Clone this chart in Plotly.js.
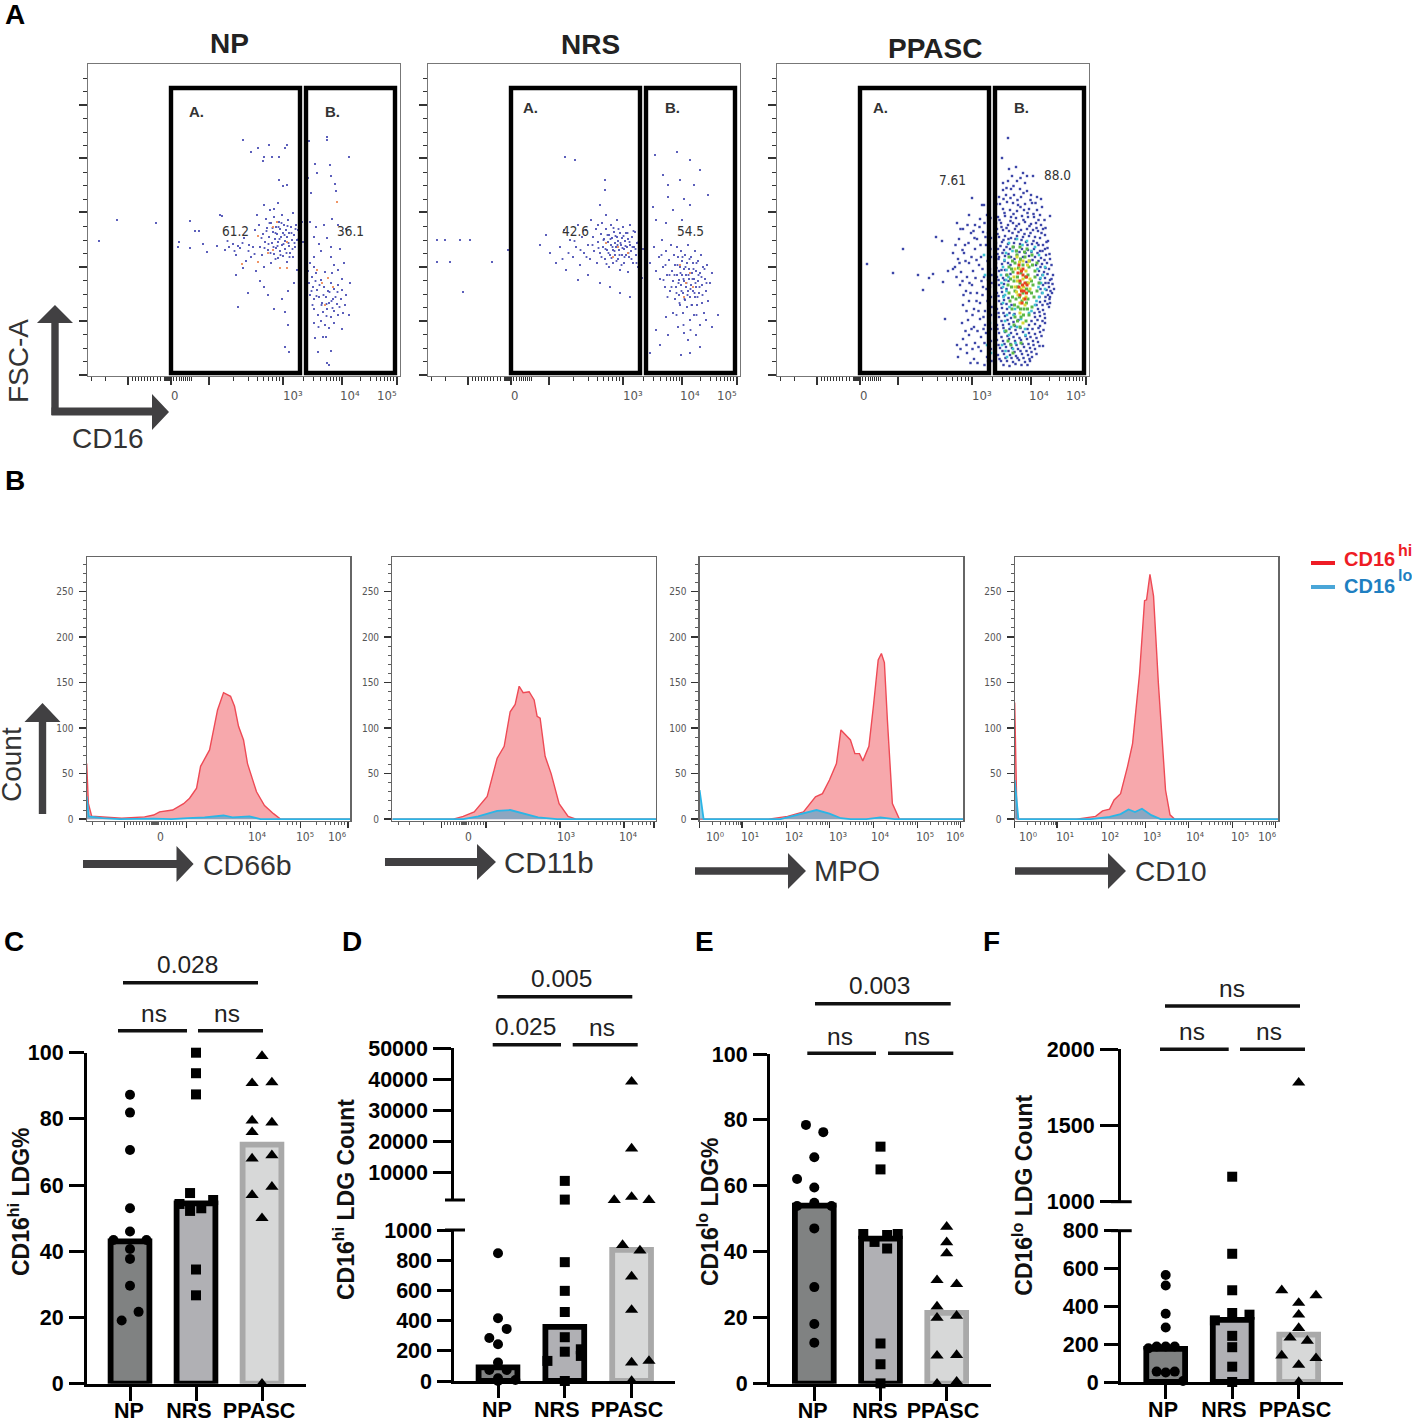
<!DOCTYPE html>
<html><head><meta charset="utf-8">
<script src="https://cdn.plot.ly/plotly-3.0.1.min.js"></script>
<style>html,body{margin:0;padding:0;background:#fff}#g{width:1412px;height:1422px}</style>
</head><body><div id="g"></div>
<script>
// ---------- Panel A: flow events, [CD16 channel, FSC-A channel] ----------
const npBlue=[[155,235],[170,227],[181,230],[199,230],[197,227],[163,223],[176,218],[184,218],[191,218],[175,214],[221,234],[239,238],[239,235],[261,218],[227,211],[242,210],[229,202],[243,199],[220,197],[191,195],[199,190],[195,189],[247,191],[223,182],[248,184],[29,155],[68,152],[11,134],[102,154],[91,133],[90,128],[102,127],[107,144],[111,144],[115,131],[119,123],[129,129],[132,160],[134,159],[137,125],[141,128],[145,131],[148,120],[150,129],[152,127],[156,137],[158,114],[161,130],[163,118],[165,128],[167,145],[169,160],[171,150],[172,128],[174,120],[175,141],[176,170],[177,133],[178,156],[179,147],[180,125],[181,138],[182,165],[183,112],[183,152],[184,132],[185,143],[186,121],[186,158],[187,136],[188,148],[188,127],[189,141],[190,117],[190,133],[191,153],[192,146],[192,124],[193,138],[194,130],[194,160],[195,142],[195,119],[196,150],[197,134],[197,126],[198,145],[199,138],[199,113],[200,155],[201,129],[201,142],[202,122],[203,148],[204,135],[205,118],[205,162],[206,140],[207,128],[208,150],[209,135],[209,105],[210,145],[211,125],[212,138],[213,118],[214,153],[215,133],[186,166],[190,172],[176,108],[168,104],[155,107],[148,100],[172,94],[176,88],[180,80],[160,82],[150,68],[194,76],[200,84],[206,92],[197,63],[186,66],[200,50],[201,23],[197,28],[212,100],[222,153],[228,148],[236,150],[244,156],[250,150],[258,146],[226,138],[231,131],[239,137],[243,128],[233,124],[226,118],[222,112],[226,108],[243,118],[246,110],[252,126],[256,112],[220,104],[224,98],[228,102],[237,103],[244,102],[250,105],[254,96],[221,92],[225,88],[229,85],[233,95],[236,88],[240,84],[243,92],[246,86],[250,90],[254,85],[258,80],[262,92],[222,80],[226,76],[231,78],[234,72],[238,78],[241,72],[245,76],[249,71],[253,76],[257,70],[261,60],[226,66],[230,60],[235,63],[239,66],[243,58],[246,64],[250,60],[255,62],[226,52],[233,54],[237,50],[241,47],[246,52],[254,46],[227,37],[235,38],[238,38],[243,24],[241,10],[239,12],[230,23]];
const npBlue2=[[173.5,137],[176.5,127],[178.5,144],[180.5,131],[181.5,152],[182.5,122],[184.5,147],[185.5,128],[187.5,142],[187.5,116],[189.5,129],[190.5,148],[191.5,136],[192.5,120],[193.5,152],[195.5,131],[196.5,140],[198.5,122],[199.5,149],[200.5,132],[201.5,118],[203.5,142],[204.5,126],[206.5,132],[207.5,146],[210.5,136],[212.5,128],[166.5,121],[160.5,124],[154.5,132],[146.5,124],[139.5,134],[223.5,84],[228.5,79],[231.5,90],[235.5,80],[238.5,71],[241.5,83],[244.5,67],[247.5,78],[251.5,68],[227.5,94],[233.5,70],[238.5,59],[243.5,74],[249.5,83],[224.5,70],[230.5,48]];
const npOrange=[[189,153],[185,148],[170,139],[199,133],[185,125],[180,122],[154,111],[170,113],[192,107],[199,107],[249,173],[240,97],[234,92],[245,88],[237,70],[229,105]];
const nrsBlue=[[137,218],[147,215],[177,195],[177,185],[227,220],[249,223],[262,215],[272,205],[235,200],[240,190],[252,195],[266,190],[280,180],[240,178],[256,176],[225,168],[245,165],[262,170],[228,155],[238,152],[254,155],[172,170],[178,160],[170,150],[9,135],[17,135],[32,135],[42,135],[22,113],[35,83],[9,113],[64,113],[80,125],[112,130],[118,140],[122,122],[128,112],[132,128],[136,145],[138,105],[142,135],[145,118],[148,128],[150,150],[152,110],[154,138],[156,122],[158,145],[160,130],[162,116],[163,155],[165,138],[166,124],[168,146],[169,112],[170,133],[172,122],[173,141],[174,152],[175,128],[176,136],[177,116],[178,146],[179,125],[180,133],[181,140],[181,108],[182,120],[183,130],[183,150],[184,137],[185,125],[185,112],[186,143],[187,132],[187,120],[188,128],[189,138],[189,155],[190,116],[190,134],[191,125],[192,142],[192,105],[193,130],[194,120],[194,137],[195,148],[196,126],[196,112],[197,134],[198,120],[198,142],[199,128],[200,103],[200,136],[201,118],[202,130],[202,150],[203,124],[204,138],[205,112],[206,128],[207,143],[208,120],[209,132],[210,108],[211,125],[212,138],[213,115],[214,97],[215,126],[150,95],[160,100],[172,92],[182,88],[192,82],[202,78],[218,120],[222,112],[226,128],[228,104],[231,118],[232,96],[234,135],[235,108],[237,88],[238,124],[239,100],[241,115],[242,84],[243,130],[244,104],[245,94],[246,120],[247,76],[247,110],[248,88],[249,100],[249,128],[250,118],[251,80],[251,95],[252,108],[252,70],[253,124],[253,90],[254,100],[254,114],[255,82],[255,62],[256,106],[256,94],[257,120],[257,75],[258,88],[258,100],[259,112],[259,68],[260,130],[260,84],[261,96],[261,106],[262,78],[262,55],[263,90],[263,118],[264,102],[264,70],[265,84],[265,112],[266,60],[266,96],[267,124],[267,78],[268,104],[268,88],[269,70],[270,114],[270,94],[271,82],[272,102],[272,50],[273,120],[274,90],[274,72],[275,108],[276,62],[277,96],[278,84],[279,110],[280,74],[282,92],[284,102],[245,62],[238,58],[250,48],[256,42],[260,35],[268,40],[272,28],[262,22],[253,20],[240,40],[232,30],[228,45],[278,55],[284,48],[290,60],[222,22]];
const nrsBlue2=[[170.5,127],[173.5,118],[175.5,135],[177.5,126],[178.5,111],[179.5,140],[180.5,122],[182.5,136],[183.5,117],[184.5,128],[185.5,147],[186.5,124],[187.5,139],[188.5,114],[189.5,130],[190.5,146],[191.5,120],[192.5,132],[193.5,110],[194.5,127],[195.5,139],[196.5,118],[197.5,129],[199.5,142],[200.5,122],[201.5,133],[203.5,116],[204.5,128],[205.5,144],[207.5,126],[208.5,112],[210.5,133],[212.5,122],[164.5,130],[158.5,118],[152.5,125],[146.5,134],[140.5,122],[134.5,116],[246.5,100],[248.5,82],[249.5,110],[250.5,92],[251.5,72],[252.5,102],[253.5,84],[254.5,118],[255.5,96],[256.5,76],[257.5,108],[258.5,92],[259.5,80],[260.5,100],[261.5,116],[262.5,86],[263.5,70],[264.5,96],[265.5,106],[266.5,82],[267.5,92],[268.5,112],[269.5,78],[270.5,100],[271.5,88],[273.5,98],[274.5,80],[276.5,106],[278.5,92],[243.5,88],[241.5,100],[239.5,78],[237.5,110],[235.5,95],[233.5,120],[255.5,50],[262.5,45],[248.5,60],[268.5,60]];
const nrsOrange=[[185,118],[190,128],[200,122],[178,132],[258,92],[262,102],[256,78],[252,110],[265,88]];
const ppBlue=[[90,111],[126,126],[116,102],[141,100],[146,85],[152,97],[156,101],[159,138],[165,134],[166,93],[168,56],[171,104],[176,106],[231,237],[225,217],[195,177],[205,170],[273,159],[273,78],[218,204],[232,206],[239,208],[246,202],[250,199],[256,199],[235,199],[226,192],[231,194],[240,194],[248,192],[226,185],[234,186],[243,186],[250,184],[222,178],[229,180],[237,180],[244,178],[254,180],[260,178],[264,176],[223,171],[230,173],[236,172],[241,170],[248,171],[255,172],[218,165],[226,166],[233,165],[240,164],[247,165],[252,166],[260,165],[265,168],[221,158],[228,159],[234,158],[239,157],[245,159],[251,158],[257,158],[263,160],[219,152],[224,152],[231,150],[236,152],[242,151],[248,153],[254,151],[259,152],[264,150],[220,146],[226,145],[232,144],[238,146],[244,145],[250,146],[256,145],[261,144],[266,146],[222,138],[228,139],[234,137],[240,139],[246,138],[252,139],[258,138],[263,137],[268,140],[219,132],[225,133],[231,131],[237,132],[243,131],[249,133],[255,131],[260,132],[266,130],[271,134],[221,126],[227,125],[233,126],[239,124],[245,126],[251,125],[257,126],[263,124],[268,126],[222,118],[228,119],[234,118],[240,120],[246,118],[252,119],[258,118],[264,117],[269,120],[273,116],[219,112],[225,111],[231,112],[259,110],[265,111],[270,112],[222,104],[228,105],[262,104],[267,103],[272,106],[276,100],[220,98],[226,97],[263,96],[268,97],[273,95],[222,90],[227,91],[266,90],[272,88],[277,86],[220,82],[225,83],[265,82],[271,80],[275,82],[222,74],[227,75],[263,73],[268,74],[273,72],[220,66],[225,67],[230,66],[261,66],[266,65],[272,68],[222,58],[228,59],[234,57],[258,58],[263,59],[268,57],[220,50],[226,50],[232,51],[238,49],[252,50],[258,51],[263,49],[268,52],[222,42],[228,43],[234,42],[240,41],[246,43],[252,42],[258,41],[263,43],[220,35],[226,34],[232,36],[238,34],[244,35],[250,36],[256,34],[261,33],[266,29],[223,27],[229,28],[235,27],[241,26],[247,28],[253,27],[258,26],[221,20],[227,21],[233,20],[239,19],[245,21],[251,20],[255,18],[224,14],[230,14],[236,13],[242,15],[248,13],[253,14],[180,152],[186,146],[192,160],[198,150],[203,156],[210,160],[182,136],[188,130],[194,142],[200,136],[206,143],[212,148],[176,122],[181,116],[187,122],[192,112],[198,126],[204,118],[209,130],[214,137],[178,108],[184,103],[190,98],[196,104],[202,110],[207,98],[213,106],[183,90],[189,84],[195,90],[200,82],[206,88],[211,95],[186,70],[192,74],[197,66],[203,72],[208,64],[214,78],[185,52],[191,55],[197,48],[203,56],[208,50],[214,60],[180,30],[186,36],[192,40],[198,32],[204,38],[209,42],[214,34],[181,18],[190,22],[197,16],[204,24],[210,18],[214,26],[211,14],[207,170],[211,142],[214,118],[213,88],[214,46]];
const ppBlue2=[[236.5,189],[243.5,197],[229.5,187],[246.5,182],[253.5,175],[226.5,176],[233.5,177],[240.5,175],[219.5,171],[258.5,172],[227.5,162],[236.5,161],[243.5,168],[250.5,162],[256.5,161],[261.5,155],[222.5,155],[233.5,154],[239.5,149],[246.5,155],[252.5,149],[267.5,155],[224.5,148],[229.5,147],[235.5,142],[241.5,143],[247.5,141],[253.5,142],[259.5,147],[264.5,142],[268.5,147],[220.5,141],[226.5,135],[231.5,136],[238.5,136],[244.5,135],[250.5,130],[256.5,134],[261.5,130],[269.5,133],[223.5,129],[229.5,128],[236.5,128],[242.5,123],[248.5,122],[254.5,123],[260.5,122],[265.5,124],[270.5,127],[220.5,121],[225.5,122],[231.5,121],[237.5,116],[243.5,115],[249.5,113],[255.5,115],[261.5,114],[267.5,115],[272.5,121],[221.5,116],[227.5,114],[233.5,110],[263.5,108],[268.5,107],[274.5,110],[219.5,107],[224.5,105],[229.5,100],[233.5,101],[260.5,100],[265.5,100],[270.5,101],[274.5,96],[221.5,95],[227.5,95],[231.5,94],[262.5,92],[268.5,92],[271.5,92],[275.5,91],[224.5,87],[229.5,86],[263.5,86],[269.5,85],[273.5,84],[221.5,79],[226.5,79],[231.5,77],[262.5,78],[268.5,78],[272.5,76],[224.5,71],[229.5,71],[234.5,70],[259.5,70],[265.5,70],[270.5,71],[221.5,62],[226.5,62],[232.5,62],[237.5,61],[257.5,62],[262.5,63],[267.5,61],[224.5,54],[230.5,55],[236.5,53],[241.5,55],[254.5,54],[260.5,55],[265.5,54],[220.5,46],[226.5,47],[232.5,46],[238.5,45],[243.5,47],[250.5,46],[255.5,46],[261.5,47],[266.5,45],[224.5,38],[230.5,39],[236.5,38],[242.5,37],[248.5,39],[253.5,38],[259.5,37],[264.5,39],[221.5,30],[227.5,31],[233.5,31],[239.5,30],[245.5,31],[251.5,31],[256.5,30],[262.5,29],[225.5,24],[231.5,24],[237.5,23],[243.5,24],[249.5,24],[254.5,23],[259.5,21],[222.5,16],[228.5,17],[234.5,17],[240.5,17],[246.5,17],[252.5,16],[226.5,10],[232.5,9],[238.5,11],[244.5,10],[250.5,10],[183.5,146],[190.5,150],[196.5,144],[202.5,148],[207.5,152],[213.5,157],[178.5,130],[185.5,125],[191.5,132],[197.5,137],[203.5,130],[208.5,138],[213.5,126],[182.5,112],[188.5,114],[194.5,118],[199.5,115],[205.5,106],[210.5,114],[214.5,100],[179.5,98],[185.5,94],[192.5,92],[198.5,97],[204.5,94],[209.5,86],[214.5,92],[186.5,80],[193.5,82],[199.5,74],[205.5,80],[210.5,74],[214.5,68],[189.5,64],[195.5,60],[201.5,64],[206.5,58],[211.5,66],[188.5,44],[194.5,46],[200.5,44],[206.5,46],[211.5,52],[183.5,26],[189.5,30],[195.5,26],[201.5,28],[207.5,32],[212.5,40],[193.5,12],[200.5,12],[207.5,10],[212.5,20],[214.5,14]];
const ppCyan=[[232,132],[240,136],[250,134],[258,128],[229,122],[262,120],[226,108],[268,108],[224,100],[266,100],[229,95],[264,92],[226,88],[268,86],[228,80],[262,78],[226,72],[258,70],[230,60],[252,62],[238,66],[228,54],[244,56],[232,40],[225,30],[236,26],[230,18],[208,100],[212,72],[214,22],[210,30],[213,52],[207,120],[240,48],[248,46],[234,48],[235.5,124],[245.5,130],[254.5,124],[227.5,115],[260.5,106],[229.5,105],[263.5,97],[231.5,98],[224.5,92],[261.5,88],[229.5,84],[265.5,82],[226.5,78],[259.5,74],[232.5,68],[254.5,64],[236.5,60],[227.5,44],[238.5,32],[228.5,24],[248.5,40]];
const ppGreen=[[236,128],[243,128],[250,126],[232,118],[240,120],[248,118],[255,120],[260,112],[232,108],[238,112],[246,110],[252,108],[258,104],[230,100],[236,103],[244,102],[251,100],[258,98],[262,92],[231,90],[237,94],[243,92],[250,92],[256,90],[260,84],[232,82],[238,84],[246,82],[252,84],[257,78],[233,74],[239,76],[245,74],[251,76],[255,68],[235,66],[241,68],[247,66],[252,60],[238,58],[244,58],[249,54],[237,50],[243,48],[231,34],[236,22],[229,44],[234,30],[244,32],[239.5,124],[247.5,123],[235.5,114],[243.5,116],[252.5,114],[234.5,106],[241.5,107],[255.5,110],[233.5,96],[240.5,98],[248.5,98],[254.5,94],[234.5,88],[240.5,88],[249.5,86],[254.5,82],[235.5,78],[242.5,78],[249.5,72],[237.5,70],[243.5,66],[250.5,66],[240.5,54],[246.5,60]];
const ppYellow=[[240,118],[246,114],[252,114],[238,106],[243,106],[249,104],[237,98],[246,96],[253,96],[238,88],[244,86],[253,86],[241,80],[249,78],[243,72],[248,70],[243,62],[246,52],[242.5,113],[250.5,110],[240.5,94],[251.5,92],[239.5,83],[246.5,88],[246.5,76]];
const ppRed=[[242,110],[246,106],[241,102],[246,100],[243,94],[248,92],[242,88],[247,84],[243,80],[248,76],[245,72],[250,90],[244.5,104],[249.5,98],[245.5,90],[244.5,84],[249.5,82]];
const gateA=[83,212];const gateB=[218,307];const gateTop=287;const gateBottom=2;
const fscMajor=[0,54,108,163,217,270];
const fscMinor=[13.5,27,40.5,67.5,81,94.5,121.5,135,149,176,190,203,230,243,257,284,297];
const cd16Major=[40,83,121,195,254,309];
const cd16Minor=[3,17,44,47,50,53,56,59,62,65,69,72,76,77,78,79,80,81,82,85,88,91,93,95,97,99,101,103,145,160,169,175,180,184,188,191,215,225,232,238,242,245,248,251,272,282,288,292,296,299,302,305];
const cd16LabelPos=[86,205,262,299];
const cd16Labels=['0','10³','10⁴','10⁵'];
const gateLabels=[['A.','B.','61.2','36.1'],['A.','B.','42.6','54.5'],['A.','B.','7.61','88.0']];
const panelNames=['NP','NRS','PPASC'];

// ---------- Panel B: histograms, channel vs count ----------
const cd66bRedX=[0,1.7,5,20,35,58,67,73,86,97,103,110,114,123,127,131,137,144,148,152,157,161,170,178,187,194,264];
const cd66bRedY=[61,17,3.3,2,1,2.5,4.5,8,10,17,23,34,58,76,98,120,139,135,124,102,87,61,30,15,6,0,0];
const cd66bBlueX=[0,2,16,33,67,85,101,118,137,146,163,174,264];
const cd66bBlueY=[25,3,1,0,0.5,0,1,2,4,2,3,0,0];
const cd11bRedX=[0,61,71,82,95,105,112,118,123,127,131,137,142,145,148,153,159,167,176,184,264];
const cd11bRedY=[0,0,3,8,25,67,80,118,126,146,139,140,131,113,111,69,50,17,3,0,0];
const cd11bBlueX=[0,71,86,105,118,133,146,165,264];
const cd11bBlueY=[0,0,3,9,10,5.5,2,0,0];
const mpoRedX=[0,69,88,104,116,123,130,137,141.5,151,155.5,160,163.4,169.5,174,178.8,182,185,188,193,200,264];
const mpoRedY=[0,0,3,8,24.6,28,43,61,98,87,72,72,64,80,124,175,182,172,109,17,0,0];
const mpoBlueX=[0,4,81,102,117,130,141.5,151,167,181,195,264];
const mpoBlueY=[32,0,0,5.5,10,6,1,0,0,2,0,0];
const cd10RedX=[0,2.3,62,81,88,95,99.5,106,113,118,125,130,132,135.4,139,143.8,151,155.5,160,264];
const cd10RedY=[128,0,0,3,9,11,21,28,58,83,160,240,241,269,245,150,32,4.7,0,0];
const cd10BlueX=[0,3.7,76,95,106,114,120.4,127.4,136.8,146,264];
const cd10BlueY=[43,0,0,2.5,5.5,10.7,7.7,11.4,4.4,0,0];
const countMajor=[0,50,100,150,200,250];
const countMinor=[10,20,30,40,60,70,80,90,110,120,130,140,160,170,180,190,210,220,230,240,260,270,280];
const histMajors=[[38,100,164,214,261.5],[49,94,168,232,262],[0,42.5,87,130,174,218,261],[0,42.5,87,130.7,174,218,261]];
const histMinors=[
 [6,18,29,41,44,47,50,53,56,60,63,65,66,67,68,69,70,71,72,75,78,81,84,87,90,93,96,110,121,131,140,148,153,157,161,180,193,201,206,210,230,239,244,248,252,255,258],
 [6,17,31,52,55,58,61,64,67,69,70,71,72,73,74,76,79,82,85,88,91,112,130,140,148,153,158,162,165,186,196,204,210,215,220,224,228,240,246,250,254,258],
 [13,21,26,30,34,37,39,41,56,64,69,73,77,79,82,84,100,108,113,117,121,123,126,128,143,151,156,160,164,167,169,172,187,195,200,204,208,211,213,216,231,239,244,248,252,255,257,259],
 [13,21,26,30,34,37,39,41,56,64,69,73,77,79,82,84,100,108,113,117,121,123,126,128,143,151,156,160,164,167,169,172,187,195,200,204,208,211,213,216,231,239,244,248,252,255,257,259]];
const histLabelPos=[[74,170,219,251],[76.5,174,236],[15,50,95,139,181,225.5,256],[13,50,95,137,181,225.5,252.5]];
const histLabels=[['0','10⁴','10⁵','10⁶'],['0','10³','10⁴'],['10⁰','10¹','10²','10³','10⁴','10⁵','10⁶'],['10⁰','10¹','10²','10³','10⁴','10⁵','10⁶']];

// ---------- Panels C-F: bars and individual values ----------
const groups=['NP','NRS','PPASC'];
const cBars=[43,54.5,72.2];
const cNpV=[87.3,81.9,70.6,53,46,43.4,43.4,40.7,37.7,29.6,21.7,19.1];
const cNpJ=[0,0,0,0,0,-0.25,0.25,0,0,0,0.13,-0.126];
const cNrsV=[100,93.8,87.4,57.6,55.5,54.3,52.2,53,34.5,26.7];
const cNrsJ=[0,0,0,-0.09,0.26,-0.25,-0.09,0.08,0,0];
const cPpV=[99,90.8,91,79.5,78.9,76,68,69,59.5,57,50,0];
const cPpJ=[0,-0.15,0.15,-0.15,0.15,-0.15,-0.15,0.15,0.15,-0.15,0,0];
const dBars=[90,358,868];
const dNpV=[846,415,345,285,243,122,73,73,18,7,0];
const dNpJ=[0,0,0.13,-0.13,0,0,-0.13,0.13,0,0.26,0];
const dNrsV=[7174,1133,787,597,457,290,194,133,210,166,0];
const dNrsJ=[0,0,0,0,0,0,0,-0.26,0.24,0.24,0];
const dPpV=[39200,17600,2000,1000,1000,900,864,692,471,122,133,0];
const dPpJ=[0,0,0,-0.26,0.26,-0.135,0.125,0,0,0,0.26,0];
const eBars=[54,44,21.5];
const eNpV=[78.5,76.3,68.7,62.1,59.5,54.9,53.9,53.9,47.1,29.3,18.1,12.4];
const eNpJ=[-0.126,0.136,0,-0.26,0,0,-0.26,0.26,0,0,0,0];
const eNrsV=[71.9,65,45.4,45.4,45.1,43,41,12.2,5.9,0.1];
const eNrsJ=[0,0,-0.26,0.26,0.1,-0.09,0.1,0,0,0];
const ePpV=[47.6,42.9,39.5,31.4,30.2,23.4,20,20.6,8.5,8.7,0,0.6];
const ePpJ=[0,0,0,-0.146,0.15,-0.146,-0.146,0.15,-0.146,0.15,-0.146,0.15];
const fBars=[175,329,250];
const fNpV=[566,510,361,288,188,188,188,178,55,50,55,5];
const fNpJ=[0,0,0,0,-0.136,0,0.136,-0.26,-0.136,0,0.136,0.26];
const fNrsV=[1164,678,485,365,326,356,244,184,81,0];
const fNrsJ=[0,0,0,0,-0.26,0.26,0,0,0,0];
const fPpV=[1781,485,458,418,356,285,234,218,140,126,90,0];
const fPpJ=[0,-0.255,0.26,0,0,0,-0.13,0.13,-0.255,0.26,0,0];

// ---------- helpers ----------
const W=1412,H=1422,FONT='"Liberation Sans",Arial,sans-serif',TICKF='"DejaVu Sans Condensed","DejaVu Sans",sans-serif';
const px=x=>x/W, py=y=>1-y/H;
const traces=[],ann=[],shapes=[],layout={width:W,height:H,margin:{l:0,r:0,t:0,b:0,pad:0},paper_bgcolor:'#fff',plot_bgcolor:'rgba(0,0,0,0)',showlegend:false,font:{family:FONT,color:'#000'},annotations:ann,shapes:shapes,hovermode:false};
let axN=0;
function newAxes(xa,ya){axN++;const k=axN===1?'':axN;layout['xaxis'+k]=Object.assign({anchor:'y'+k,zeroline:false,showgrid:false,fixedrange:true},xa);layout['yaxis'+k]=Object.assign({anchor:'x'+k,zeroline:false,showgrid:false,fixedrange:true},ya);return {x:'x'+k,y:'y'+k};}
function T(x,y,text,size,o){ann.push(Object.assign({x:px(x),y:py(y),xref:'paper',yref:'paper',text:text,showarrow:false,xanchor:'center',yanchor:'middle',borderpad:0,font:{size:size,family:FONT,color:'#000'}},o||{}));}
function poly(pts,fill){shapes.push({type:'path',xref:'paper',yref:'paper',layer:'above',line:{width:0},fillcolor:fill,path:'M'+pts.map(p=>px(p[0]).toFixed(5)+','+py(p[1]).toFixed(5)).join('L')+'Z'});}
function seg(x0,y0,x1,y1,w,c){shapes.push({type:'line',xref:'paper',yref:'paper',layer:'above',x0:px(x0),y0:py(y0),x1:px(x1),y1:py(y1),line:{width:w,color:c||'#000'}});}
const ARROW='#414042';
function arrowR(x0,tip,yc,hw,sw,base){poly([[x0,yc-sw],[base,yc-sw],[base,yc-hw],[tip,yc],[base,yc+hw],[base,yc+sw],[x0,yc+sw]],ARROW);}
function arrowU(y0,tip,xc,hw,sw,base){poly([[xc-sw,y0],[xc-sw,base],[xc-hw,base],[xc,tip],[xc+hw,base],[xc+sw,base],[xc+sw,y0]],ARROW);}
function dots(ax,data,color,size){traces.push({type:'scatter',mode:'markers',xaxis:ax.x,yaxis:ax.y,x:data.map(p=>p[0]),y:data.map(p=>p[1]),cliponaxis:true,marker:{symbol:'square',size:size,color:color,line:{width:0}},hoverinfo:'skip'});}

// ---------- Panel A ----------
const aLefts=[88,428,777];
const aTitleX=[230,590,935],aTitleY=[43,45,48];
const gateLabelPos=[[196,332,235,350,111,111,231,231],[530,672,575,690,108,108,231,231],[880,1022,953,1057,108,108,180,175]];
const aDots=[[[npBlue,'#4a4eb4',1.8],[npBlue2,'#4a4eb4',1.8],[npOrange,'#ef8a55',1.8]],[[nrsBlue,'#4a4eb4',1.8],[nrsBlue2,'#4a4eb4',1.8],[nrsOrange,'#ef8a55',1.8]],[[ppBlue,'#3c46a8',2.4],[ppBlue2,'#3c46a8',2.4],[ppCyan,'#3fc3d2',2.6],[ppGreen,'#5cb848',3],[ppYellow,'#d9d836',3],[ppRed,'#e8431f',3]]];
aLefts.forEach((L,i)=>{
 const tk={ticks:'outside',tickcolor:'#333',tickwidth:1.4,ticklen:8,showticklabels:false,showline:true,mirror:true,linecolor:'#777',linewidth:1,tickmode:'array'};
 const ax=newAxes(Object.assign({domain:[px(L),px(L+312)],range:[0,312],tickvals:cd16Major,minor:{tickmode:'array',tickvals:cd16Minor,ticks:'outside',ticklen:4,tickwidth:1,tickcolor:'#333'}},tk),
  Object.assign({domain:[py(376),py(64)],range:[-1,311],tickvals:fscMajor,minor:{tickmode:'array',tickvals:fscMinor,ticks:'outside',ticklen:4,tickwidth:1,tickcolor:'#333'}},tk));
 aDots[i].forEach(d=>dots(ax,d[0],d[1],d[2]));
 [gateA,gateB].forEach(g=>shapes.push({type:'rect',xref:ax.x,yref:ax.y,layer:'above',x0:g[0],x1:g[1],y0:gateBottom,y1:gateTop,line:{width:4.4,color:'#000'},fillcolor:'rgba(0,0,0,0)'}));
 T(aTitleX[i],aTitleY[i],'<b>'+panelNames[i]+'</b>',28,{font:{size:28,family:FONT,color:'#222'}});
 const p=gateLabelPos[i];
 gateLabels[i].forEach((s,j)=>T(p[j],p[j+4],j<2?'<b>'+s+'</b>':s,j<2?15:13.5,{font:{size:j<2?15:13.5,family:j<2?FONT:TICKF,color:'#333'}}));
 cd16Labels.forEach((s,j)=>ann.push({x:cd16LabelPos[j],xref:ax.x,y:py(396),yref:'paper',text:s,showarrow:false,xanchor:'center',yanchor:'middle',font:{size:13,family:TICKF,color:'#555'}}));
});
T(15,15,'<b>A</b>',28);
arrowU(415,305,55,18,3.7,323);
poly([[51.5,407.5],[152,407.5],[152,394],[169,412],[152,430],[152,415.5],[51.5,415.5]],ARROW);
T(18,361,'FSC-A',28,{textangle:-90,font:{size:28,family:FONT,color:'#333'}});
T(108,438,'CD16',28,{font:{size:28,family:FONT,color:'#333'}});

// ---------- Panel B ----------
const bLefts=[86.7,392.3,699.6,1014.7];
const hist=[[cd66bRedX,cd66bRedY,cd66bBlueX,cd66bBlueY],[cd11bRedX,cd11bRedY,cd11bBlueX,cd11bBlueY],[mpoRedX,mpoRedY,mpoBlueX,mpoBlueY],[cd10RedX,cd10RedY,cd10BlueX,cd10BlueY]];
bLefts.forEach((L,i)=>{
 const ax=newAxes({domain:[px(L),px(L+263.7)],range:[0,264],tickmode:'array',tickvals:histMajors[i],ticks:'outside',ticklen:6,tickwidth:1.4,tickcolor:'#333',showticklabels:false,showline:true,mirror:true,linecolor:'#666',linewidth:1.2,minor:{tickmode:'array',tickvals:histMinors[i],ticks:'outside',ticklen:3,tickwidth:0.8,tickcolor:'#333'}},
 {domain:[py(820.5),py(557)],range:[-1.5,288],tickmode:'array',tickvals:countMajor,ticktext:countMajor.map(String),ticks:'outside',ticklen:7,tickwidth:1.4,tickcolor:'#333',tickfont:{size:10,family:TICKF,color:'#555'},ticklabelstandoff:3,showline:true,mirror:true,linecolor:'#666',linewidth:1.2,minor:{tickmode:'array',tickvals:countMinor,ticks:'outside',ticklen:3,tickwidth:0.8,tickcolor:'#333'}});
 const h=hist[i];
 traces.push({type:'scatter',mode:'lines',xaxis:ax.x,yaxis:ax.y,x:h[0],y:h[1],fill:'tozeroy',fillcolor:'rgba(238,70,78,0.47)',line:{color:'#ee4a55',width:1.4},hoverinfo:'skip'});
 traces.push({type:'scatter',mode:'lines',xaxis:ax.x,yaxis:ax.y,x:h[2],y:h[3],fill:'tozeroy',fillcolor:'rgba(70,165,205,0.6)',line:{color:'#2bb5e6',width:1.8},hoverinfo:'skip'});
 histLabels[i].forEach((s,j)=>ann.push({x:histLabelPos[i][j],xref:ax.x,y:py(837),yref:'paper',text:s,showarrow:false,xanchor:'center',yanchor:'middle',font:{size:12,family:TICKF,color:'#555'}}));
});
T(15,480,'<b>B</b>',28);
arrowU(814,703,42.5,18,3.7,722);
T(11,765,'Count',28,{textangle:-90,font:{size:28,family:FONT,color:'#333'}});
arrowR(83,193.6,864,18,4,176.5);T(247,865,'CD66b',28.5,{font:{size:28.5,family:FONT,color:'#333'}});
arrowR(385,496,862,18,4,477);T(549,862,'CD11b',29.5,{font:{size:29.5,family:FONT,color:'#333'}});
arrowR(695,806,871,18,3.8,788);T(847,871,'MPO',29,{font:{size:29,family:FONT,color:'#333'}});
arrowR(1015,1126,871,18,3.8,1108);T(1171,871,'CD10',28,{font:{size:28,family:FONT,color:'#333'}});
seg(1311,563,1335,563,4,'#ee1c25');seg(1311,587,1335,587,4,'#4aa6d8');
T(1369.5,559,'<b>CD16</b>',20,{font:{size:20,family:FONT,color:'#ee1c25'}});
T(1405,550,'<b>hi</b>',16,{font:{size:16,family:FONT,color:'#ee1c25'}});
T(1369.5,586,'<b>CD16</b>',20,{font:{size:20,family:FONT,color:'#1f7fc1'}});
T(1405,575,'<b>lo</b>',16,{font:{size:16,family:FONT,color:'#1f7fc1'}});

// ---------- Panels C-F ----------
const barFill=['#808282','#b0b0b4','#d7d8d8'],barEdge=['#000','#000','#a9a9a9'],syms=['circle','square','triangle-up'],symSize=[10,10,11.5];
function barPanel(s){
 const r=[(s.x0-s.c)/s.sp,(s.x1-s.c)/s.sp];
 const xa={domain:[px(s.x0),px(s.x1)],range:r,tickmode:'array',tickvals:s.lab,ticktext:groups,tickangle:0,ticks:'outside',ticklen:0,ticklabelstandoff:s.stand,tickfont:{size:21.5,family:FONT,weight:'bold',color:'#000'},showline:true,linecolor:'#000',linewidth:3,minor:{tickmode:'array',tickvals:[0,1,2],ticks:'outside',ticklen:14,tickwidth:3,tickcolor:'#000'}};
 const ya=(t,b,rg,vals,len)=>({domain:[py(b),py(t)],range:rg,tickmode:'array',tickvals:vals,ticktext:vals.map(String),ticks:'outside',ticklen:len,tickwidth:3,tickcolor:'#000',tickfont:{size:21.5,family:FONT,weight:'bold',color:'#000'},ticklabelstandoff:1,showline:true,linecolor:'#000',linewidth:3});
 const lo=newAxes(xa,ya(s.lo[0],s.lo[1],s.lo[2],s.lo[3],s.lo[4]));
 traces.push({type:'bar',xaxis:lo.x,yaxis:lo.y,x:[0,1,2],y:s.bars,width:38.8/s.sp,marker:{color:barFill,line:{color:barEdge,width:5.8}},hoverinfo:'skip'});
 let up=null;
 if(s.up){up=newAxes({domain:xa.domain,range:r,visible:false},ya(s.up[0],s.up[1],s.up[2],s.up[3],s.up[4]));
  seg(s.cap[0],s.up[1],s.cap[1],s.up[1],3);seg(s.cap[0],s.lo[0],s.cap[1],s.lo[0],3);}
 s.pts.forEach((g,i)=>{
  const split=s.up?s.up[2][0]:Infinity;
  const lx=[],ly=[],ux=[],uy=[];
  g[0].forEach((v,j)=>{if(v>=split){ux.push(i+g[1][j]);uy.push(v);}else{lx.push(i+g[1][j]);ly.push(v);}});
  const m={symbol:syms[i],size:symSize[i],color:'#000',line:{width:0}};
  traces.push({type:'scatter',mode:'markers',xaxis:lo.x,yaxis:lo.y,x:lx,y:ly,cliponaxis:false,marker:m,hoverinfo:'skip'});
  if(up)traces.push({type:'scatter',mode:'markers',xaxis:up.x,yaxis:up.y,x:ux,y:uy,cliponaxis:false,marker:m,hoverinfo:'skip'});
 });
 s.br.forEach(b=>{seg(b[0],b[2],b[1],b[2],3.6,'#111');});
 s.txt.forEach(t=>T(t[0],t[1],t[2],24.5,{font:{size:24.5,family:FONT,color:'#222'}}));
 T(s.tt[0],s.tt[1],'<b>'+s.tt[2]+'</b>',23,{textangle:-90,font:{size:23,family:FONT,color:'#111'}});
 T(s.let[0],s.let[1],'<b>'+s.let[2]+'</b>',28);
}
barPanel({x0:87,x1:306,c:130,sp:66,lab:[-0.015,0.894,1.955],stand:5,bars:cBars,
 lo:[1052.7,1383.7,[0,100],[0,20,40,60,80,100],15],
 pts:[[cNpV,cNpJ],[cNrsV,cNrsJ],[cPpV,cPpJ]],
 br:[[123,258,982.7],[118,187,1030.7],[198,263,1030.7]],
 txt:[[187.5,964,'0.028'],[154,1013,'ns'],[226.7,1013,'ns']],
 tt:[19,1202,'CD16<sup>hi</sup> LDG%'],let:[14,941,'C']});
barPanel({x0:454.3,x1:675,c:498,sp:66.8,lab:[-0.015,0.88,1.93],stand:7,bars:dBars,
 lo:[1230,1381,[0,1000],[0,200,400,600,800,1000],14],
 up:[1048.3,1200,[1000,50000],[10000,20000,30000,40000,50000],18],cap:[445,465],
 pts:[[dNpV,dNpJ],[dNrsV,dNrsJ],[dPpV,dPpJ]],
 br:[[497.3,632.3,996.7],[492.7,561,1044.7],[572.7,637.7,1044.7]],
 txt:[[561,978,'0.005'],[525,1026.7,'0.025'],[601.7,1027,'ns']],
 tt:[344,1200,'CD16<sup>hi</sup> LDG Count'],let:[352,941,'D']});
barPanel({x0:770,x1:991,c:814.3,sp:66.2,lab:[-0.024,0.917,1.944],stand:5,bars:eBars,
 lo:[1054,1383.7,[0,100],[0,20,40,60,80,100],14],
 pts:[[eNpV,eNpJ],[eNrsV,eNrsJ],[ePpV,ePpJ]],
 br:[[815,950.7,1003.7],[807.3,876,1053.3],[888,953.3,1053.3]],
 txt:[[879,985,'0.003'],[840,1036,'ns'],[916.7,1036,'ns']],
 tt:[708,1212,'CD16<sup>lo</sup> LDG%'],let:[704,941,'E']});
barPanel({x0:1121,x1:1342.7,c:1165.7,sp:66.5,lab:[-0.04,0.877,1.944],stand:6,bars:fBars,
 lo:[1230.7,1382,[0,800],[0,200,400,600,800],14],
 up:[1049.3,1201.7,[1000,2000],[1000,1500,2000],18],cap:[1111,1131.7],
 pts:[[fNpV,fNpJ],[fNrsV,fNrsJ],[fPpV,fPpJ]],
 br:[[1165,1300,1006],[1160,1228.7,1049.3],[1240,1305,1049.3]],
 txt:[[1231.7,988,'ns'],[1191.7,1031.7,'ns'],[1269,1031.7,'ns']],
 tt:[1022.7,1195,'CD16<sup>lo</sup> LDG Count'],let:[991,941,'F']});

Plotly.newPlot('g',traces,layout,{staticPlot:true,displayModeBar:false});
</script></body></html>
